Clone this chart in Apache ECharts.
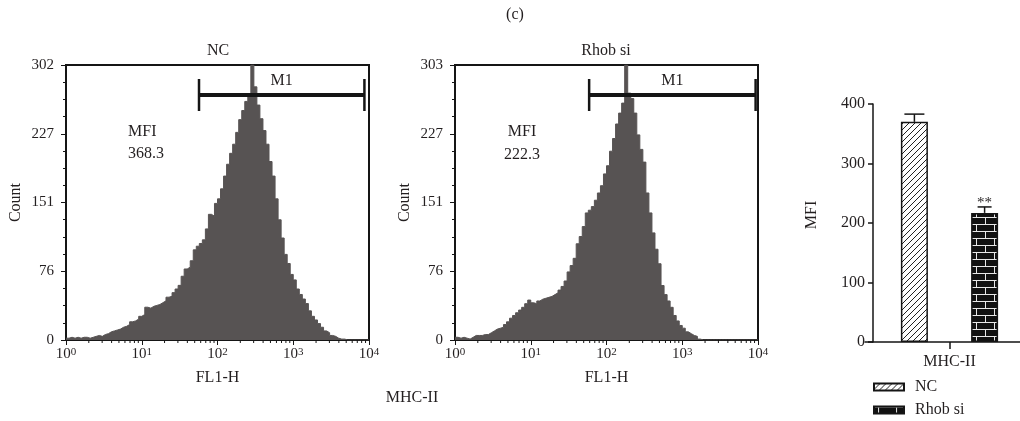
<!DOCTYPE html>
<html><head><meta charset="utf-8">
<script src="https://cdn.jsdelivr.net/npm/echarts@6/dist/echarts.min.js"></script>
<style>html,body{margin:0;padding:0;background:#fff}#c{width:1020px;height:421px}</style>
</head><body><div id="c"></div>
<script>
// ---------- data ----------
const histTitles = ['NC', 'Rhob si'];
const countsNC = [
  2,3,2,3,2,3,3,2,3,4,
  5,4,6,7,9,10,11,12,14,15,
  17,20,21,23,26,28,36,35,37,38,
  39,41,43,47,48,52,56,60,70,78,
  80,87,99,103,106,110,122,138,136,150,
  155,166,180,193,205,215,228,242,252,262,
  270,302,278,258,243,230,215,196,180,155,
  132,112,94,84,72,66,56,50,45,40,
  32,26,22,18,14,10,8,5,4,2,
  1,1,0,0,0,0,0,0,0,0
];
const countsRhob = [
  3,2,3,2,1,3,5,5,5,6,
  6,8,10,12,13,14,17,20,24,27,
  30,33,36,40,44,41,40,43,45,46,
  47,48,50,52,55,59,65,75,82,90,
  106,114,125,140,143,147,154,162,170,183,
  192,208,222,238,250,261,303,272,266,250,
  226,210,196,162,140,118,100,84,60,50,
  43,36,27,21,16,13,9,7,5,4,
  1,0,0,0,0,0,0,0,0,0,
  0,0,0,0,0,0,0,0,0,0
];
const yMaxes = [302, 303];
const yTickLabelsNC = ['0', '76', '151', '227', '302'];
const yTickLabelsRhob = ['0', '76', '151', '227', '303'];
const decadeLabels = ['0', '1', '2', '3', '4'];
const minorMultipliers = [2, 3, 4, 5, 6, 7, 8, 9];
const gateNC = [57, 8700];
const gateRhob = [59, 9300];
const mfiValues = ['368.3', '222.3'];

const barCategory = ['MHC-II'];
const barGroups = ['NC', 'Rhob si'];
const barMeans = [370, 217];
const barErrors = [13, 10];
const sigLabels = ['', '**'];

// ---------- styles ----------
const FONT = "'Liberation Serif','DejaVu Serif',serif";
const TXT = '#231f20';
const HIST = '#575353';
const LINE = '#151515';

function makeHatch() {
  const c = document.createElement('canvas'); c.width = 6; c.height = 6;
  const g = c.getContext('2d');
  g.fillStyle = '#fff'; g.fillRect(0, 0, 6, 6);
  g.strokeStyle = '#222'; g.lineWidth = 1;
  g.beginPath();
  g.moveTo(-1, 7); g.lineTo(7, -1);
  g.moveTo(-1, 1); g.lineTo(1, -1);
  g.moveTo(5, 7); g.lineTo(7, 5);
  g.stroke();
  return c;
}
function makeBrick() {
  const w = 18, h = 14;
  const c = document.createElement('canvas'); c.width = w; c.height = h;
  const g = c.getContext('2d');
  g.fillStyle = '#111'; g.fillRect(0, 0, w, h);
  g.strokeStyle = '#e8e8e8'; g.lineWidth = 1;
  g.beginPath();
  g.moveTo(0, 0.5); g.lineTo(w, 0.5);
  g.moveTo(0, 7.5); g.lineTo(w, 7.5);
  g.moveTo(4.5, 0); g.lineTo(4.5, 7);
  g.moveTo(13.5, 7); g.lineTo(13.5, 14);
  g.stroke();
  return c;
}
const patterns = [{ image: makeHatch(), repeat: 'repeat' }, { image: makeBrick(), repeat: 'repeat' }];

const chart = echarts.init(document.getElementById('c'), null, { renderer: 'canvas' });

const allCounts = [countsNC, countsRhob];
const allYLabels = [yTickLabelsNC, yTickLabelsRhob];
const allGates = [gateNC, gateRhob];

function histData(counts) {
  const bw = (decadeLabels.length - 1) / counts.length; // decades per channel
  const d = counts.map((c, i) => [i * bw, c]);
  d.push([counts.length * bw, counts[counts.length - 1]]);
  return d;
}
const minorPos = [];
for (let d = 0; d < decadeLabels.length - 1; d++) {
  minorMultipliers.forEach(m => minorPos.push([d + Math.log10(m), 0]));
}

const grids = [
  { left: 66, top: 65, width: 303, height: 275, show: true, borderColor: LINE, borderWidth: 2, outerBoundsMode: 'none' },
  { left: 455, top: 65, width: 303, height: 275, show: true, borderColor: LINE, borderWidth: 2, outerBoundsMode: 'none' },
  { left: 865, top: 104, width: 169, height: 238, outerBoundsMode: 'none' }
];
const xAxes = [], yAxes = [], series = [];

[0, 1].forEach(i => {
  const yMax = yMaxes[i];
  const labels = allYLabels[i];
  xAxes.push({
    gridIndex: i, type: 'value', min: 0, max: decadeLabels.length - 1, interval: 1,
    name: 'FL1-H', nameLocation: 'middle', nameGap: 30,
    nameTextStyle: { fontFamily: FONT, fontSize: 16, color: TXT },
    axisLine: { show: true, lineStyle: { color: LINE, width: 2 } },
    axisTick: { show: true, length: 5, lineStyle: { color: LINE, width: 1 } },
    axisLabel: {
      margin: 7,
      formatter: v => '{b|10}{s|' + decadeLabels[Math.round(v)] + '}',
      rich: {
        b: { fontFamily: FONT, fontSize: 15, color: TXT },
        s: { fontFamily: FONT, fontSize: 11, color: TXT, verticalAlign: 'top' }
      }
    },
    splitLine: { show: false }
  });
  yAxes.push({
    gridIndex: i, type: 'value', min: 0, max: yMax, interval: yMax / 4,
    name: 'Count', nameLocation: 'middle', nameGap: 42,
    nameTextStyle: { fontFamily: FONT, fontSize: 16, color: TXT },
    axisLine: { show: true, lineStyle: { color: LINE, width: 2 } },
    axisTick: { show: true, length: 5, lineStyle: { color: LINE, width: 1 } },
    minorTick: { show: true, splitNumber: 4, length: 3, lineStyle: { color: LINE, width: 1 } },
    axisLabel: {
      margin: 12, fontFamily: FONT, fontSize: 15, color: TXT,
      formatter: v => labels[Math.round(v / (yMax / 4))]
    },
    splitLine: { show: false }
  });
  series.push({
    type: 'line', xAxisIndex: i, yAxisIndex: i, step: 'end', symbol: 'none',
    data: histData(allCounts[i]),
    lineStyle: { color: HIST, width: 1 },
    areaStyle: { color: HIST, opacity: 1 },
    silent: true, z: 2
  });
  // log minor ticks on the bottom axis
  series.push({
    type: 'custom', xAxisIndex: i, yAxisIndex: i, data: minorPos, encode: { x: 0, y: 1 },
    silent: true, z: 5,
    renderItem: (p, api) => {
      const pt = api.coord([api.value(0), 0]);
      return { type: 'line', shape: { x1: pt[0], y1: pt[1], x2: pt[0], y2: pt[1] + 3 },
               style: { stroke: LINE, lineWidth: 1 } };
    }
  });
  // M1 gate
  const g = allGates[i];
  series.push({
    type: 'custom', xAxisIndex: i, yAxisIndex: i,
    data: [[Math.log10(g[0]), Math.log10(g[1]), 0]], encode: { x: [0, 1], y: 2 },
    silent: true, z: 6,
    renderItem: (p, api) => {
      const x1 = api.coord([api.value(0), 0])[0];
      const x2 = api.coord([api.value(1), 0])[0];
      const y = p.coordSys.y + 30;
      return {
        type: 'group', children: [
          { type: 'line', shape: { x1: x1, y1: y, x2: x2, y2: y }, style: { stroke: LINE, lineWidth: 4 } },
          { type: 'line', shape: { x1: x1, y1: y - 16, x2: x1, y2: y + 16 }, style: { stroke: LINE, lineWidth: 2.5 } },
          { type: 'line', shape: { x1: x2, y1: y - 16, x2: x2, y2: y + 16 }, style: { stroke: LINE, lineWidth: 2.5 } },
          { type: 'text', x: (x1 + x2) / 2, y: y - 14,
            style: { text: 'M1', align: 'center', verticalAlign: 'middle', fontFamily: FONT, fontSize: 16, fill: TXT } }
        ]
      };
    }
  });
});

// ---- bar chart ----
xAxes.push({
  gridIndex: 2, type: 'category', data: barCategory,
  axisLine: { show: true, lineStyle: { color: LINE, width: 1.5 } },
  axisTick: { show: true, alignWithLabel: true, length: 7, lineStyle: { color: LINE, width: 1.5 } },
  axisLabel: { margin: 12, fontFamily: FONT, fontSize: 16, color: TXT }
});
yAxes.push({
  gridIndex: 2, type: 'value', min: 0, max: 400, interval: 100, offset: -8,
  axisLine: { show: true, lineStyle: { color: LINE, width: 1.5 } },
  axisTick: { show: true, length: 5, lineStyle: { color: LINE, width: 1.5 } },
  axisLabel: { margin: 8, fontFamily: FONT, fontSize: 16, color: TXT },
  splitLine: { show: false }
});
const barOffsets = [-35.1, 35.1];
const capHalf = [10, 7];
barGroups.forEach((name, k) => {
  series.push({
    type: 'bar', name: name, xAxisIndex: 2, yAxisIndex: 2,
    barWidth: 27, barGap: '160%',
    data: [{
      value: barMeans[k],
      label: { show: sigLabels[k] !== '', formatter: sigLabels[k], position: 'top', distance: 2,
               fontFamily: FONT, fontSize: 15, color: TXT }
    }],
    itemStyle: { color: patterns[k], borderColor: LINE, borderWidth: 1.5 },
    z: 2
  });
});
barGroups.forEach((name, k) => {
  series.push({
    type: 'custom', xAxisIndex: 2, yAxisIndex: 2, silent: true, z: 4,
    data: [[0, barMeans[k], barMeans[k] + barErrors[k]]], encode: { x: 0, y: [1, 2] },
    renderItem: (p, api) => {
      const top = api.coord([api.value(0), api.value(2)]);
      const base = api.coord([api.value(0), api.value(1)]);
      const x = top[0] + barOffsets[k];
      return {
        type: 'group', children: [
          { type: 'line', shape: { x1: x, y1: base[1], x2: x, y2: top[1] }, style: { stroke: LINE, lineWidth: 1.5 } },
          { type: 'line', shape: { x1: x - capHalf[k], y1: top[1], x2: x + capHalf[k], y2: top[1] }, style: { stroke: LINE, lineWidth: 1.5 } }
        ]
      };
    }
  });
});

function txt(text, x, y, opts) {
  return {
    type: 'text', x: x, y: y, silent: true,
    style: Object.assign({ text: text, fontFamily: FONT, fontSize: 16, fill: TXT, align: 'center', verticalAlign: 'middle' }, opts || {})
  };
}
const graphics = [
  txt('(c)', 515, 15),
  txt(histTitles[0], 218, 51),
  txt(histTitles[1], 606, 51),
  txt('MFI', 128, 132, { align: 'left' }),
  txt(mfiValues[0], 128, 154, { align: 'left' }),
  txt('MFI', 522, 132),
  txt(mfiValues[1], 522, 155),
  txt('MHC-II', 412, 398)
];
const mfiAxis = txt('MFI', 812, 215);
mfiAxis.rotation = Math.PI / 2;
graphics.push(mfiAxis);

const legendTops = [379, 402];
chart.setOption({
  animation: false,
  backgroundColor: '#fff',
  textStyle: { fontFamily: FONT, color: TXT },
  grid: grids,
  xAxis: xAxes,
  yAxis: yAxes,
  legend: barGroups.map((name, k) => ({
    data: [name], orient: 'vertical', left: 873, top: legendTops[k], padding: 0,
    itemWidth: 30, itemHeight: 7, selectedMode: false, icon: 'rect',
    textStyle: { fontFamily: FONT, fontSize: 16, color: TXT, padding: [0, 0, 0, 6] }
  })),
  graphic: graphics,
  series: series
});
</script>
</body></html>
